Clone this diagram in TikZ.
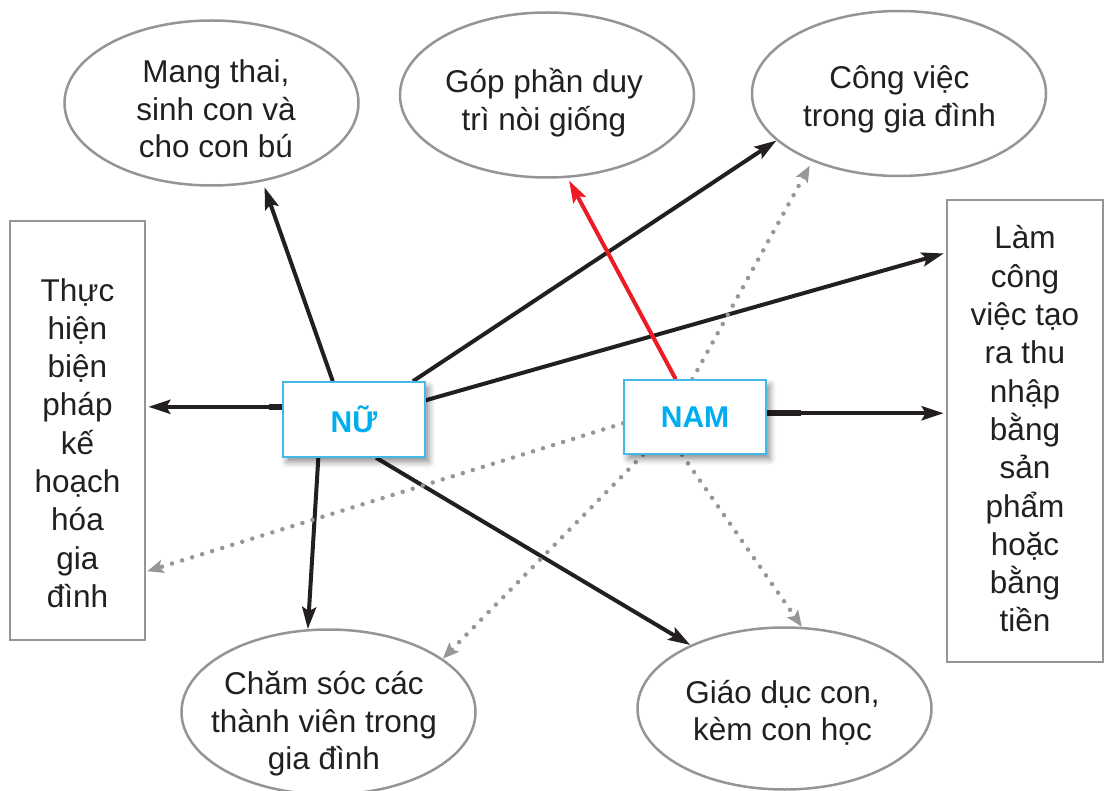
\documentclass[tikz,border=0pt]{standalone}
\usepackage{fontspec}
\setmainfont{Liberation Sans}
\usetikzlibrary{arrows.meta,shapes.geometric,shadows.blur}
\pgfdeclarelayer{bg}
\pgfsetlayers{bg,main}

\definecolor{ink}{HTML}{231F20}
\definecolor{rimgray}{HTML}{939598}
\definecolor{dotgray}{HTML}{959799}
\definecolor{cyantext}{HTML}{00AEEF}
\definecolor{boxrim}{HTML}{45B8EA}
\definecolor{redline}{HTML}{ED1C24}

\tikzset{
  bubble/.style={ellipse, draw=rimgray, line width=2.5pt, fill=white,
    minimum width=294pt, minimum height=165pt, inner sep=0pt},
  bubbletext/.style={align=center, inner sep=0pt,
    font=\fontsize{31.5}{37.5}\selectfont, text=ink},
  sidebox/.style={rectangle, draw=rimgray, line width=2.6pt, fill=white, inner sep=0pt},
  sidetext/.style={align=center, font=\fontsize{31.5}{38.3}\selectfont, text=ink, inner sep=0pt},
  sexbox/.style={rectangle, draw=boxrim, line width=1.5pt, fill=white,
    minimum width=142pt, minimum height=75pt, inner sep=0pt,
    font=\fontsize{30}{34}\bfseries\selectfont, text=cyantext,
    blur shadow={shadow xshift=4pt, shadow yshift=-5pt, shadow blur radius=6pt, shadow opacity=45}},
  solidarrow/.style={draw=ink, line width=4pt, -{Stealth[length=22pt,width=14pt,inset=4pt]}},
  redarrow/.style={solidarrow, draw=redline},
  dotarrow/.style={draw=dotgray, line width=4.5pt, line cap=round, dash pattern=on 0pt off 10.5pt,
    -{Stealth[length=16pt,width=13pt,inset=3pt]}},
  stub/.style={draw=ink, line width=6pt}
}

\begin{document}
\begin{tikzpicture}[x=1pt,y=-1pt]
\useasboundingbox (0,0) rectangle (1106,791);

% outcome bubbles and their captions
\node[bubble] (e1) at (211.5,103) {};
\node[bubbletext] (e1t) at (216,109) {Mang thai,\\sinh con và\\cho con bú};
\node[bubble] (e2) at (547,95) {};
\node[bubbletext] (e2t) at (544,102.5) {Góp phần duy\\trì nòi giống};
\node[bubble] (e3) at (899,93.5) {};
\node[bubbletext] (e3t) at (899.5,99.5) {Công việc\\trong gia đình};
\node[bubble] (e4) at (328.5,712) {};
\node[bubbletext] (e4t) at (324,724) {Chăm sóc các\\thành viên trong\\gia đình};
\node[bubble, minimum height=162pt] (e5) at (784.5,708.5) {};
\node[bubbletext] (e5t) at (782.5,713) {Giáo dục con,\\kèm con học};

% tall side panels
\node[sidebox, minimum width=135pt, minimum height=419pt] (L) at (77.5,430.5) {};
\node[sidetext] (Lt) at (77.5,443) {Thực\\hiện\\biện\\pháp\\kế\\hoạch\\hóa\\gia\\đình};
\node[sidebox, minimum width=156pt, minimum height=462pt] (R) at (1025,431) {};
\node[sidetext] (Rt) at (1025,429) {Làm\\công\\việc tạo\\ra thu\\nhập\\bằng\\sản\\phẩm\\hoặc\\bằng\\tiền};

% the two central boxes
\node[sexbox] (nu) at (354,419.5) {NỮ};
\node[sexbox, minimum height=74pt] (nam) at (695,417) {NAM};

\begin{pgfonlayer}{bg}
  % from NỮ
  \draw[solidarrow, shorten >=6pt] (nu.119) -- (e1.-57);
  \draw[solidarrow, shorten >=2pt] (nu.170) -- (nu.170 -| L.east);
  \draw[solidarrow] (nu.33.8) -- (e3.-159.3);
  \draw[solidarrow, shorten >=2pt] (nu.15.4) -- (R.114.3);
  \draw[solidarrow] (nu.-133.8) -- (e4.104.4);
  \draw[solidarrow] (nu.-60.75) -- (e5.146.5);
  \draw[stub] (nu.170) -- ++(-13,0);
  % from NAM
  \draw[redarrow, shorten >=3pt] (nam.117.2) -- (e2.-76.8);
  \draw[solidarrow, shorten >=2pt] (nam.3.2) -- (nam.3.2 -| R.west);
  \draw[stub] (nam.3.2) -- ++(34,0);
  \draw[dotarrow, shorten >=5pt] (nam.94.6) -- (e3.-142.1);
  \draw[dotarrow, shorten >=1pt] (nam.-175.6) -- (L.-64.65);
  \draw[dotarrow] (nam.-144.6) -- (e4.25.3);
  \draw[dotarrow] (nam.-109.4) -- (e5.78);
\end{pgfonlayer}
\end{tikzpicture}
\end{document}
